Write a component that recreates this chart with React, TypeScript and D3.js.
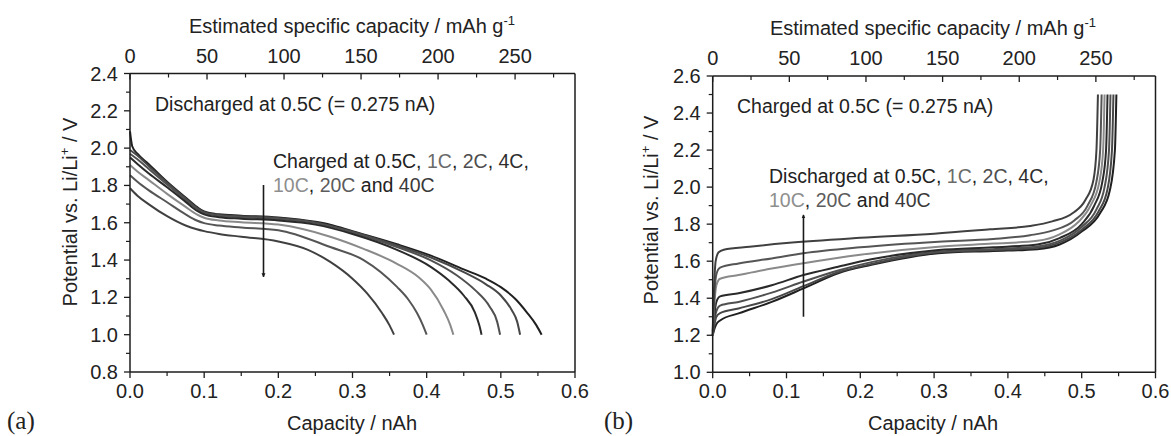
import React from "react";
import * as d3 from "d3";

type Pt = [number, number];

// Series labels (C-rates) and their grey levels
const RATES = ["0.5C", "1C", "2C", "4C", "10C", "20C", "40C"];
const RATE_COLORS = ["#222222", "#6a6a6a", "#4e4e4e", "#2e2e2e", "#8e8e8e", "#5c5c5c", "#3a3a3a"];
const LINE_COLORS = ["#202020", "#474747", "#505050", "#2a2a2a", "#8a8a8a", "#555555", "#404040"];

// Panel (a): discharge at 0.5C after charging at each rate  [capacity nAh, potential V]
const A_05C: Pt[] = [[0, 2.09], [0.003, 2.01], [0.01, 1.97], [0.025, 1.915], [0.05, 1.82], [0.075, 1.735], [0.09, 1.685], [0.1, 1.66], [0.12, 1.645], [0.15, 1.638], [0.2, 1.628], [0.25, 1.605], [0.27, 1.59], [0.3, 1.555], [0.36, 1.485], [0.405, 1.425], [0.45, 1.35], [0.48, 1.3], [0.5, 1.255], [0.52, 1.19], [0.535, 1.12], [0.548, 1.05], [0.555, 1.0]];
const A_1C: Pt[] = [[0, 1.99], [0.01, 1.96], [0.025, 1.905], [0.05, 1.815], [0.075, 1.73], [0.09, 1.68], [0.1, 1.657], [0.12, 1.642], [0.15, 1.635], [0.2, 1.625], [0.25, 1.602], [0.3, 1.552], [0.36, 1.478], [0.405, 1.415], [0.45, 1.335], [0.48, 1.27], [0.5, 1.21], [0.515, 1.13], [0.522, 1.07], [0.526, 1.0]];
const A_2C: Pt[] = [[0, 1.97], [0.01, 1.94], [0.025, 1.89], [0.05, 1.805], [0.075, 1.722], [0.09, 1.675], [0.1, 1.652], [0.12, 1.638], [0.15, 1.63], [0.2, 1.62], [0.25, 1.598], [0.3, 1.548], [0.36, 1.47], [0.405, 1.4], [0.44, 1.32], [0.465, 1.24], [0.485, 1.15], [0.495, 1.07], [0.499, 1.0]];
const A_4C: Pt[] = [[0, 1.95], [0.01, 1.915], [0.025, 1.865], [0.05, 1.79], [0.075, 1.712], [0.09, 1.665], [0.1, 1.645], [0.12, 1.63], [0.15, 1.622], [0.2, 1.612], [0.25, 1.59], [0.3, 1.54], [0.36, 1.455], [0.405, 1.365], [0.43, 1.29], [0.45, 1.21], [0.465, 1.12], [0.471, 1.05], [0.474, 1.0]];
const A_10C: Pt[] = [[0, 1.91], [0.01, 1.875], [0.025, 1.83], [0.05, 1.755], [0.075, 1.685], [0.09, 1.645], [0.1, 1.627], [0.12, 1.612], [0.15, 1.603], [0.2, 1.59], [0.27, 1.525], [0.315, 1.46], [0.36, 1.38], [0.39, 1.305], [0.405, 1.245], [0.423, 1.13], [0.432, 1.05], [0.436, 1.0]];
const A_20C: Pt[] = [[0, 1.855], [0.01, 1.82], [0.025, 1.775], [0.05, 1.71], [0.075, 1.645], [0.09, 1.612], [0.1, 1.598], [0.12, 1.585], [0.15, 1.575], [0.2, 1.56], [0.27, 1.47], [0.315, 1.4], [0.36, 1.256], [0.375, 1.19], [0.387, 1.116], [0.395, 1.05], [0.4, 1.0]];
const A_40C: Pt[] = [[0, 1.785], [0.01, 1.745], [0.025, 1.7], [0.05, 1.635], [0.075, 1.585], [0.09, 1.565], [0.1, 1.555], [0.12, 1.54], [0.15, 1.525], [0.2, 1.5], [0.24, 1.455], [0.27, 1.39], [0.3, 1.3], [0.32, 1.22], [0.34, 1.115], [0.35, 1.05], [0.356, 1.0]];

// Panel (b): charge at 0.5C after discharging at each rate
const B_05C: Pt[] = [[0, 1.2], [0.002, 1.23], [0.005, 1.26], [0.01, 1.28], [0.035, 1.318], [0.08, 1.38], [0.123, 1.453], [0.17, 1.535], [0.215, 1.58], [0.306, 1.643], [0.38, 1.655], [0.44, 1.665], [0.47, 1.69], [0.5, 1.76], [0.525, 1.86], [0.538, 1.98], [0.545, 2.2], [0.547, 2.5]];
const B_1C: Pt[] = [[0, 1.2], [0.002, 1.25], [0.005, 1.3], [0.01, 1.32], [0.035, 1.345], [0.08, 1.395], [0.123, 1.465], [0.17, 1.54], [0.215, 1.585], [0.306, 1.648], [0.38, 1.66], [0.44, 1.672], [0.47, 1.7], [0.5, 1.77], [0.523, 1.87], [0.535, 1.99], [0.541, 2.2], [0.543, 2.5]];
const B_2C: Pt[] = [[0, 1.2], [0.002, 1.27], [0.005, 1.33], [0.01, 1.36], [0.035, 1.38], [0.08, 1.43], [0.123, 1.49], [0.17, 1.55], [0.215, 1.595], [0.306, 1.652], [0.38, 1.665], [0.44, 1.68], [0.47, 1.71], [0.5, 1.785], [0.52, 1.88], [0.531, 2.0], [0.537, 2.2], [0.539, 2.5]];
const B_4C: Pt[] = [[0, 1.2], [0.002, 1.3], [0.005, 1.38], [0.01, 1.41], [0.035, 1.427], [0.08, 1.47], [0.123, 1.525], [0.17, 1.57], [0.215, 1.61], [0.306, 1.66], [0.38, 1.675], [0.44, 1.69], [0.47, 1.725], [0.5, 1.8], [0.517, 1.9], [0.528, 2.03], [0.533, 2.2], [0.535, 2.5]];
const B_10C: Pt[] = [[0, 1.2], [0.002, 1.35], [0.005, 1.47], [0.01, 1.505], [0.035, 1.525], [0.08, 1.56], [0.123, 1.589], [0.2, 1.635], [0.306, 1.678], [0.38, 1.695], [0.44, 1.71], [0.47, 1.745], [0.495, 1.81], [0.512, 1.9], [0.524, 2.03], [0.529, 2.2], [0.531, 2.5]];
const B_20C: Pt[] = [[0, 1.21], [0.002, 1.4], [0.005, 1.53], [0.01, 1.565], [0.035, 1.588], [0.08, 1.615], [0.123, 1.643], [0.2, 1.675], [0.306, 1.705], [0.38, 1.72], [0.43, 1.74], [0.46, 1.765], [0.49, 1.82], [0.508, 1.9], [0.52, 2.03], [0.525, 2.2], [0.527, 2.5]];
const B_40C: Pt[] = [[0, 1.22], [0.002, 1.47], [0.004, 1.6], [0.008, 1.648], [0.015, 1.662], [0.05, 1.678], [0.1, 1.698], [0.2, 1.726], [0.3, 1.748], [0.376, 1.772], [0.43, 1.79], [0.46, 1.815], [0.488, 1.86], [0.505, 1.93], [0.516, 2.04], [0.52, 2.2], [0.522, 2.5]];

const SERIES_A = [A_05C, A_1C, A_2C, A_4C, A_10C, A_20C, A_40C];
const SERIES_B = [B_05C, B_1C, B_2C, B_4C, B_10C, B_20C, B_40C];

// Ticks
const X_TICKS = [0, 0.1, 0.2, 0.3, 0.4, 0.5, 0.6];
const X_MINOR = [0.05, 0.15, 0.25, 0.35, 0.45, 0.55];
const A_Y_TICKS = [0.8, 1.0, 1.2, 1.4, 1.6, 1.8, 2.0, 2.2, 2.4];
const A_Y_MINOR = [0.9, 1.1, 1.3, 1.5, 1.7, 1.9, 2.1, 2.3];
const B_Y_TICKS = [1.0, 1.2, 1.4, 1.6, 1.8, 2.0, 2.2, 2.4, 2.6];
const B_Y_MINOR = [1.1, 1.3, 1.5, 1.7, 1.9, 2.1, 2.3, 2.5];
const TOP_TICKS = [0, 50, 100, 150, 200, 250];
const TOP_MINOR = [25, 75, 125, 175, 225, 275];
const SPECIFIC_PER_NAH = 481.5; // mAh g-1 per nAh

const SANS = "'Liberation Sans', Arial, Helvetica, sans-serif";
const AXIS = "#1c1c1c";
const TXT = "#222";

type PanelProps = {
  left: number; right: number; top: number; bottom: number;
  yDomain: [number, number]; yTicks: number[]; yMinor: number[];
  series: Pt[][]; label: string; labelX: number;
  titleX: number; yTitleX: number; yTitleY: number;
  children?: (x: d3.ScaleLinear<number, number>, y: d3.ScaleLinear<number, number>) => React.ReactNode;
};

function Panel(p: PanelProps) {
  const x = d3.scaleLinear().domain([0, 0.6]).range([p.left, p.right]);
  const y = d3.scaleLinear().domain(p.yDomain).range([p.bottom, p.top]);
  const xt = d3.scaleLinear().domain([0, 0.6 * SPECIFIC_PER_NAH]).range([p.left, p.right]);
  const line = d3.line<Pt>().x((d) => x(d[0])).y((d) => y(d[1])).curve(d3.curveMonotoneX);
  const f1 = d3.format(".1f");
  return (
    <g>
      {p.series.map((s, i) => (
        <path key={i} d={line(s) || ""} fill="none" stroke={LINE_COLORS[i]} strokeWidth={2} strokeLinejoin="round" />
      ))}
      {/* frame */}
      <line x1={p.left} x2={p.right} y1={p.bottom} y2={p.bottom} stroke={AXIS} strokeWidth={1.5} />
      <line x1={p.left} x2={p.right} y1={p.top} y2={p.top} stroke={AXIS} strokeWidth={1.5} />
      <line x1={p.left} x2={p.left} y1={p.top} y2={p.bottom} stroke={AXIS} strokeWidth={1.5} />
      <line x1={p.right} x2={p.right} y1={p.top} y2={p.bottom} stroke={AXIS} strokeWidth={1.5} />
      {/* bottom ticks */}
      {X_TICKS.map((t) => (
        <g key={"bx" + t}>
          <line x1={x(t)} x2={x(t)} y1={p.bottom} y2={p.bottom + 6} stroke={AXIS} strokeWidth={1.3} />
          <text x={x(t)} y={p.bottom + 26} textAnchor="middle" fontSize={20} fill={TXT} fontFamily={SANS}>{f1(t)}</text>
        </g>
      ))}
      {X_MINOR.map((t) => (
        <line key={"bm" + t} x1={x(t)} x2={x(t)} y1={p.bottom} y2={p.bottom + 4} stroke={AXIS} strokeWidth={1.2} />
      ))}
      {/* left ticks */}
      {p.yTicks.map((t) => (
        <g key={"ly" + t}>
          <line x1={p.left - 6} x2={p.left} y1={y(t)} y2={y(t)} stroke={AXIS} strokeWidth={1.3} />
          <text x={p.left - 12} y={y(t) + 7} textAnchor="end" fontSize={20} fill={TXT} fontFamily={SANS}>{f1(t)}</text>
        </g>
      ))}
      {p.yMinor.map((t) => (
        <line key={"lm" + t} x1={p.left - 4} x2={p.left} y1={y(t)} y2={y(t)} stroke={AXIS} strokeWidth={1.2} />
      ))}
      {/* top ticks (inward) */}
      {TOP_TICKS.map((t) => (
        <g key={"tx" + t}>
          <line x1={xt(t)} x2={xt(t)} y1={p.top} y2={p.top + 6} stroke={AXIS} strokeWidth={1.3} />
          <text x={xt(t)} y={p.top - 11} textAnchor="middle" fontSize={20} fill={TXT} fontFamily={SANS}>{String(t)}</text>
        </g>
      ))}
      {TOP_MINOR.map((t) => (
        <line key={"tm" + t} x1={xt(t)} x2={xt(t)} y1={p.top} y2={p.top + 4} stroke={AXIS} strokeWidth={1.2} />
      ))}
      {/* titles */}
      <text x={p.titleX} y={p.top - 41} textAnchor="middle" fontSize={20} fill={TXT} fontFamily={SANS}>
        Estimated specific capacity / mAh g<tspan dy={-8} fontSize={13}>-1</tspan>
      </text>
      <text x={p.titleX} y={p.bottom + 58} textAnchor="middle" fontSize={20} fill={TXT} fontFamily={SANS}>Capacity / nAh</text>
      <text transform={`translate(${p.yTitleX},${p.yTitleY}) rotate(-90)`} textAnchor="middle" fontSize={20} fill={TXT} fontFamily={SANS}>
        Potential vs. Li/Li<tspan dy={-8} fontSize={13}>+</tspan><tspan dy={8}> / V</tspan>
      </text>
      <text x={p.labelX} y={p.bottom + 57} fontSize={25} fill={TXT} fontFamily="'Liberation Serif', 'DejaVu Serif', serif">{p.label}</text>
      {p.children ? p.children(x, y) : null}
    </g>
  );
}

function RateList({ first, x, y }: { first: string; x: number; y: number }) {
  return (
    <text fontSize={19.5} fontFamily={SANS} fill={TXT}>
      <tspan x={x} y={y}>
        {first}
        <tspan fill={RATE_COLORS[0]}>{RATES[0]}</tspan>, <tspan fill={RATE_COLORS[1]}>{RATES[1]}</tspan>, <tspan fill={RATE_COLORS[2]}>{RATES[2]}</tspan>, <tspan fill={RATE_COLORS[3]}>{RATES[3]}</tspan>,
      </tspan>
      <tspan x={x} y={y + 24}>
        <tspan fill={RATE_COLORS[4]}>{RATES[4]}</tspan>, <tspan fill={RATE_COLORS[5]}>{RATES[5]}</tspan> and <tspan fill={RATE_COLORS[6]}>{RATES[6]}</tspan>
      </tspan>
    </text>
  );
}

export default function App() {
  return (
    <svg width={1171} height={436} style={{ position: "absolute", left: 0, top: 0, background: "#fff" }}>
      <defs>
        <marker id="ah" viewBox="0 0 10 10" refX="9" refY="5" markerWidth="4" markerHeight="6" orient="auto" markerUnits="userSpaceOnUse">
          <path d="M0,0 L10,5 L0,10 Z" fill="#1a1a1a" />
        </marker>
      </defs>
      <rect x={0} y={0} width={1171} height={436} fill="#fff" />
      <Panel left={130} right={575} top={73.5} bottom={372} yDomain={[0.8, 2.4]} yTicks={A_Y_TICKS} yMinor={A_Y_MINOR}
        series={SERIES_A} label="(a)" labelX={7} titleX={352} yTitleX={77} yTitleY={212}>
        {(x, y) => (
          <g>
            <text x={155} y={111} fontSize={19.5} fontFamily={SANS} fill={TXT}>Discharged at 0.5C (= 0.275 nA)</text>
            <RateList first="Charged at " x={273} y={168} />
            <line x1={x(0.18)} x2={x(0.18)} y1={185} y2={y(1.31)} stroke="#1a1a1a" strokeWidth={1.6}
              markerEnd="url(#ah)" />
          </g>
        )}
      </Panel>
      <Panel left={712.7} right={1155.5} top={76} bottom={372.3} yDomain={[1.0, 2.6]} yTicks={B_Y_TICKS} yMinor={B_Y_MINOR}
        series={SERIES_B} label="(b)" labelX={604} titleX={933} yTitleX={658} yTitleY={210}>
        {(x, y) => (
          <g>
            <text x={737} y={113} fontSize={19.5} fontFamily={SANS} fill={TXT}>Charged at 0.5C (= 0.275 nA)</text>
            <RateList first="Discharged at " x={769} y={183} />
            <line x1={x(0.123)} x2={x(0.123)} y1={y(1.3)} y2={y(1.85)} stroke="#1a1a1a" strokeWidth={1.6}
              markerEnd="url(#ah)" />
          </g>
        )}
      </Panel>
    </svg>
  );
}
